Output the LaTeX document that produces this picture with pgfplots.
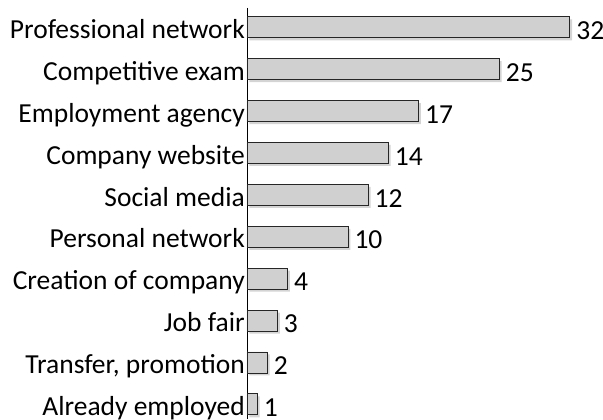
\documentclass[border=0pt]{standalone}
\usepackage{pgfplots}
\pgfplotsset{compat=1.18}
\usepackage{fontspec}
\setmainfont{Carlito}
\usetikzlibrary{shadows}
\definecolor{barfill}{RGB}{208,208,208}
\definecolor{shadowc}{RGB}{212,212,212}
\begin{document}
\begin{tikzpicture}
\begin{axis}[
  scale only axis,
  width=353pt, height=411pt,
  xbar, bar width=21pt,
  xmin=0, xmax=35,
  ymin=-0.46, ymax=9.35,
  y dir=reverse,
  axis x line=none,
  axis y line*=left,
  y axis line style={black, line width=0.8pt, -},
  ytick={0,...,9},
  yticklabels={Professional network,Competitive exam,Employment agency,Company website,Social media,Personal network,Creation of company,Job fair,{Transfer, promotion},Already employed},
  major tick length=0pt,
  yticklabel style={font=\fontsize{27.5}{32}\selectfont, inner sep=2pt, text height=16.5pt, text depth=2.75pt, yshift=-4.3pt},
  /pgf/number format/assume math mode=true,
  nodes near coords,
  every node near coord/.append style={font=\fontsize{27.5}{32}\selectfont, anchor=west, xshift=3pt, text height=16.5pt, text depth=2.75pt, yshift=-5.3pt, black},
  clip=false,
]
\addplot[draw=black!85, line width=0.7pt, fill=barfill,
  drop shadow={shadow xshift=2.5pt, shadow yshift=-2.5pt, fill=shadowc, draw=none, opacity=1}]
  coordinates {(32,0) (25,1) (17,2) (14,3) (12,4) (10,5) (4,6) (3,7) (2,8) (1,9)};
\coordinate (tl) at (axis description cs:0,1);
\coordinate (br) at (axis description cs:1,0);
\end{axis}
\pgfresetboundingbox
\useasboundingbox ([xshift=-247pt,yshift=8pt]tl) rectangle ([xshift=3pt]br);
\end{tikzpicture}
\end{document}
